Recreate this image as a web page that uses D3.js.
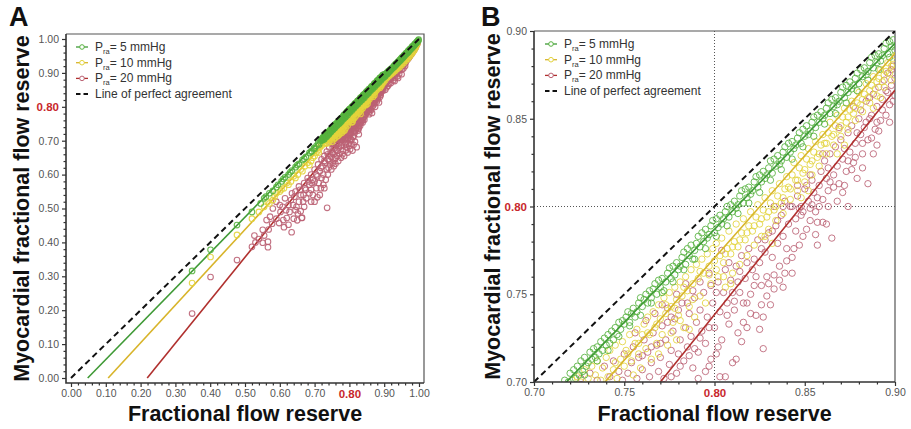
<!DOCTYPE html>
<html><head><meta charset="utf-8">
<script src="https://cdn.jsdelivr.net/npm/d3@7"></script>
<style>body{margin:0;background:#fff;} svg{display:block;font-family:"Liberation Sans",Arial,sans-serif;}</style>
</head><body><svg id="c" width="911" height="429"></svg>
<script>
// ---------- data ----------
const seriesLabels = ["= 5 mmHg", "= 10 mmHg", "= 20 mmHg"];
const agreementLabel = "Line of perfect agreement";
const xTitle = "Fractional flow reserve";
const yTitle = "Myocardial fractional flow reserve";
const ticksA = [0.00,0.10,0.20,0.30,0.40,0.50,0.60,0.70,0.80,0.90,1.00];
const tickLabelsA = ["0.00","0.10","0.20","0.30","0.40","0.50","0.60","0.70","0.80","0.90","1.00"];
const ticksB = [0.70,0.75,0.80,0.85,0.90];
const tickLabelsB = ["0.70","0.75","0.80","0.85","0.90"];
const cutoff = 0.80;
// regression fits [slope, intercept] per series (5, 10, 20 mmHg)
const fitSlopeA = [1.050, 1.114, 1.268];
const fitInterceptA = [-0.0504, -0.119, -0.2777];
const fitSlopeB = [1.060, 1.165, 1.280];
const fitInterceptB = [-0.061, -0.1613, -0.2856];

const green = [
[0.348,0.316],[0.401,0.378],[0.477,0.451],[0.520,0.490],[0.545,0.515],[0.555,0.530],[0.570,0.545],[0.580,0.552],[0.595,0.570],[0.605,0.580],[0.615,0.592],[0.625,0.600],[0.635,0.612],[0.645,0.622],[0.655,0.632],[0.665,0.643],[0.675,0.652],[0.685,0.664],[0.692,0.669],[0.698,0.678],[0.705,0.684],[0.710,0.692],[0.713,0.689],
[0.560,0.535],[0.590,0.563],[0.610,0.587],[0.630,0.607],[0.650,0.628],[0.670,0.647],[0.690,0.668],[0.700,0.676],
[0.717,0.701],[0.719,0.700],[0.720,0.705],[0.722,0.707],[0.723,0.702],[0.724,0.709],[0.725,0.704],
[0.726,0.712],[0.727,0.706],[0.728,0.714],[0.729,0.709],[0.730,0.711],
[0.731,0.717],[0.732,0.713],[0.733,0.719],[0.734,0.714],[0.735,0.720],[0.736,0.716],
[0.737,0.723],[0.738,0.718],[0.739,0.725],[0.740,0.721],[0.741,0.727],[0.742,0.722],
[0.743,0.729],[0.744,0.724],[0.745,0.731],[0.746,0.727],[0.747,0.734],[0.748,0.730],[0.749,0.735],
[0.750,0.733],[0.751,0.737],[0.752,0.740],[0.753,0.734],[0.754,0.739],[0.755,0.742],[0.756,0.737],
[0.757,0.740],[0.758,0.745],[0.759,0.748],[0.760,0.743],[0.761,0.747],[0.762,0.750],[0.763,0.745],[0.764,0.752],
[0.765,0.748],[0.766,0.753],[0.767,0.756],[0.768,0.750],[0.769,0.758],[0.770,0.754],[0.771,0.759],[0.772,0.752],
[0.773,0.757],[0.774,0.762],[0.775,0.765],[0.776,0.759],[0.777,0.766],[0.778,0.761],[0.779,0.768],[0.780,0.764],
[0.781,0.766],[0.782,0.771],[0.783,0.774],[0.784,0.767],[0.785,0.776],[0.786,0.772],[0.787,0.778],[0.788,0.770],
[0.789,0.775],[0.790,0.779],[0.791,0.783],[0.792,0.777],[0.793,0.785],[0.794,0.780],[0.795,0.787],[0.796,0.782],
[0.797,0.784],[0.798,0.789],[0.799,0.792],[0.800,0.785],[0.801,0.793],[0.802,0.788],[0.803,0.795],[0.804,0.790],
[0.805,0.793],[0.806,0.797],[0.807,0.800],[0.808,0.794],[0.809,0.801],[0.810,0.797],[0.811,0.803],[0.812,0.799],
[0.813,0.801],[0.814,0.806],[0.815,0.809],[0.816,0.802],[0.817,0.810],[0.818,0.805],[0.819,0.811],[0.820,0.807],
[0.821,0.809],[0.822,0.814],[0.823,0.817],[0.824,0.811],[0.825,0.818],[0.826,0.814],[0.827,0.820],[0.828,0.816],
[0.829,0.818],[0.830,0.822],[0.831,0.826],[0.832,0.819],[0.833,0.827],[0.834,0.823],[0.835,0.829],[0.836,0.824],
[0.837,0.826],[0.838,0.831],[0.839,0.834],[0.840,0.828],[0.841,0.836],[0.842,0.831],[0.843,0.837],[0.844,0.833],
[0.845,0.835],[0.846,0.839],[0.847,0.842],[0.848,0.836],[0.849,0.844],[0.850,0.840],[0.851,0.846],[0.852,0.841],
[0.853,0.843],[0.854,0.848],[0.855,0.851],[0.856,0.845],[0.857,0.852],[0.858,0.848],[0.859,0.854],[0.860,0.850],
[0.861,0.852],[0.862,0.856],[0.863,0.859],[0.864,0.853],[0.865,0.861],[0.866,0.857],[0.867,0.862],[0.868,0.858],
[0.869,0.860],[0.870,0.865],[0.871,0.868],[0.872,0.862],[0.873,0.869],[0.874,0.865],[0.875,0.871],[0.876,0.867],
[0.877,0.869],[0.878,0.873],[0.879,0.876],[0.880,0.870],[0.881,0.878],[0.882,0.874],[0.883,0.879],[0.884,0.875],
[0.885,0.877],[0.886,0.882],[0.887,0.885],[0.888,0.879],[0.889,0.886],[0.890,0.882],[0.891,0.887],[0.892,0.883],
[0.893,0.886],[0.894,0.890],[0.895,0.893],[0.896,0.887],[0.897,0.894],[0.898,0.891],[0.899,0.895],[0.900,0.889],
[0.728,0.704],[0.735,0.712],[0.741,0.718],[0.747,0.726],[0.753,0.732],[0.759,0.738],[0.765,0.745],[0.771,0.751],[0.777,0.757],[0.783,0.764],[0.789,0.770],[0.795,0.776],[0.801,0.783],[0.807,0.789],[0.813,0.796],[0.819,0.802],[0.825,0.808],[0.831,0.815],[0.837,0.821],[0.843,0.827],[0.849,0.834],[0.855,0.840],[0.861,0.847],[0.867,0.853],[0.873,0.859],[0.879,0.866],[0.885,0.872],[0.891,0.878],[0.897,0.885],
[0.902,0.893],[0.904,0.897],[0.906,0.896],[0.908,0.901],[0.910,0.899],[0.912,0.905],[0.914,0.903],[0.916,0.909],[0.918,0.907],[0.920,0.912],[0.922,0.913],[0.924,0.916],[0.926,0.915],[0.928,0.921],[0.930,0.919],[0.932,0.925],[0.934,0.923],[0.936,0.929],[0.938,0.928],[0.940,0.933],[0.942,0.932],[0.944,0.937],[0.946,0.936],[0.948,0.942],[0.950,0.940],[0.952,0.946],[0.954,0.945],[0.956,0.950],[0.958,0.949],[0.960,0.955],[0.962,0.954],[0.964,0.959],[0.966,0.958],[0.968,0.963],[0.970,0.962],[0.972,0.968],[0.974,0.967],[0.976,0.972],[0.978,0.971],[0.980,0.976],[0.982,0.976],[0.984,0.980],[0.986,0.980],[0.988,0.985],[0.990,0.985],[0.992,0.989],[0.994,0.990],[0.996,0.994],[0.998,0.995],[0.999,0.998],
[0.903,0.890],[0.909,0.897],[0.915,0.905],[0.921,0.911],[0.927,0.918],[0.933,0.925],[0.939,0.931],[0.945,0.938],[0.951,0.945],[0.957,0.952],[0.963,0.958],[0.969,0.965],[0.975,0.971],[0.981,0.978],[0.987,0.984],[0.993,0.991]
];

const yellow = [
[0.348,0.280],[0.401,0.357],[0.477,0.422],[0.520,0.470],[0.540,0.490],[0.555,0.505],[0.565,0.520],[0.580,0.525],[0.590,0.545],[0.600,0.550],[0.612,0.560],[0.620,0.575],[0.632,0.580],[0.640,0.595],[0.652,0.600],[0.660,0.615],[0.672,0.625],[0.680,0.635],[0.690,0.640],[0.700,0.655],[0.705,0.665],[0.710,0.672],[0.715,0.680],[0.718,0.690],[0.720,0.685],[0.730,0.693],[0.740,0.695],[0.750,0.697],
[0.570,0.515],[0.585,0.535],[0.605,0.556],[0.625,0.570],[0.645,0.590],[0.665,0.610],[0.685,0.628],[0.695,0.650],[0.712,0.665],[0.725,0.690],[0.735,0.692],
[0.721,0.701],[0.724,0.703],[0.726,0.700],[0.728,0.707],[0.730,0.702],[0.732,0.709],[0.734,0.704],[0.735,0.712],[0.737,0.701],[0.738,0.708],[0.740,0.714],[0.741,0.703],
[0.742,0.718],[0.744,0.707],[0.745,0.721],[0.746,0.702],[0.748,0.713],[0.749,0.723],[0.750,0.709],[0.751,0.718],[0.753,0.727],[0.754,0.712],[0.755,0.704],[0.756,0.722],[0.757,0.730],[0.758,0.716],[0.759,0.708],[0.760,0.727],
[0.761,0.733],[0.762,0.719],[0.763,0.737],[0.764,0.727],[0.765,0.713],[0.766,0.740],[0.767,0.731],[0.768,0.722],[0.769,0.744],[0.770,0.736],[0.771,0.727],[0.772,0.748],[0.773,0.739],[0.774,0.721],[0.775,0.751],[0.776,0.743],[0.777,0.734],[0.778,0.754],[0.779,0.747],[0.780,0.738],
[0.781,0.757],[0.782,0.749],[0.783,0.731],[0.784,0.760],[0.785,0.752],[0.786,0.743],[0.787,0.764],[0.788,0.756],[0.789,0.737],[0.790,0.767],[0.791,0.759],[0.792,0.749],[0.793,0.770],[0.794,0.762],[0.795,0.745],[0.796,0.773],[0.797,0.766],[0.798,0.756],[0.799,0.776],[0.800,0.769],
[0.801,0.779],[0.802,0.760],[0.803,0.772],[0.804,0.782],[0.805,0.768],[0.806,0.754],[0.807,0.776],[0.808,0.786],[0.809,0.773],[0.810,0.762],[0.811,0.780],[0.812,0.790],[0.813,0.777],[0.814,0.767],[0.815,0.785],[0.816,0.793],[0.817,0.781],[0.818,0.772],[0.819,0.789],[0.820,0.797],
[0.821,0.786],[0.822,0.778],[0.823,0.794],[0.824,0.801],[0.825,0.790],[0.826,0.783],[0.827,0.798],[0.828,0.805],[0.829,0.794],[0.830,0.787],[0.831,0.802],[0.832,0.809],[0.833,0.798],[0.834,0.792],[0.835,0.806],[0.836,0.813],[0.837,0.802],[0.838,0.796],[0.839,0.810],[0.840,0.817],
[0.841,0.811],[0.842,0.804],[0.843,0.818],[0.844,0.825],[0.845,0.815],[0.846,0.809],[0.847,0.822],[0.848,0.829],[0.849,0.819],[0.850,0.814],[0.851,0.827],[0.852,0.833],[0.853,0.824],[0.854,0.818],[0.855,0.831],[0.856,0.837],[0.857,0.828],[0.858,0.823],[0.859,0.835],[0.860,0.841],
[0.861,0.836],[0.862,0.830],[0.863,0.842],[0.864,0.848],[0.865,0.840],[0.866,0.835],[0.867,0.846],[0.868,0.852],[0.869,0.844],[0.870,0.840],[0.871,0.851],[0.872,0.856],[0.873,0.848],[0.874,0.844],[0.875,0.855],[0.876,0.860],[0.877,0.853],[0.878,0.849],[0.879,0.859],[0.880,0.865],
[0.881,0.858],[0.882,0.854],[0.883,0.864],[0.884,0.870],[0.885,0.862],[0.886,0.859],[0.887,0.869],[0.888,0.874],[0.889,0.867],[0.890,0.863],[0.891,0.873],[0.892,0.878],[0.893,0.871],[0.894,0.868],[0.895,0.877],[0.896,0.882],[0.897,0.876],[0.898,0.872],[0.899,0.881],[0.900,0.886],
[0.745,0.711],[0.752,0.716],[0.758,0.722],[0.763,0.728],[0.768,0.733],[0.773,0.744],[0.778,0.742],[0.783,0.754],[0.788,0.747],[0.792,0.763],[0.797,0.761],[0.801,0.764],[0.806,0.773],[0.810,0.777],[0.814,0.781],[0.818,0.785],[0.822,0.789],[0.826,0.793],[0.830,0.797],[0.834,0.800],[0.838,0.805],[0.842,0.810],[0.846,0.815],[0.850,0.821],[0.854,0.826],[0.858,0.830],[0.862,0.836],[0.866,0.841],[0.870,0.846],[0.874,0.851],[0.878,0.856],[0.882,0.861],[0.886,0.866],[0.890,0.871],[0.894,0.875],[0.898,0.880],[0.776,0.728],[0.781,0.735],[0.786,0.730],[0.779,0.724],[0.769,0.716],[0.805,0.760],[0.809,0.756],[0.828,0.783],[0.832,0.779],[0.848,0.805],[0.852,0.809],[0.868,0.830],[0.872,0.835],[0.888,0.856],[0.892,0.862],
[0.902,0.884],[0.905,0.889],[0.908,0.886],[0.911,0.893],[0.914,0.891],[0.917,0.898],[0.920,0.896],[0.923,0.903],[0.926,0.901],[0.929,0.908],[0.932,0.906],[0.935,0.913],[0.938,0.912],[0.941,0.919],[0.944,0.917],[0.947,0.925],[0.950,0.923],[0.953,0.931],[0.956,0.929],[0.959,0.937],[0.962,0.936],[0.965,0.943],[0.968,0.942],[0.971,0.950],[0.974,0.949],[0.977,0.957],[0.980,0.957],[0.983,0.964],[0.986,0.966],[0.989,0.973],[0.992,0.978],[0.995,0.985],
[0.903,0.878],[0.909,0.887],[0.915,0.894],[0.921,0.900],[0.927,0.907],[0.933,0.915],[0.939,0.921],[0.945,0.928],[0.951,0.935],[0.957,0.942],[0.963,0.949],[0.969,0.956],[0.975,0.963],[0.981,0.970],[0.987,0.977],[0.993,0.985]
];

const red = [
[0.348,0.190],[0.401,0.298],[0.477,0.348],[0.520,0.387],[0.527,0.420],[0.551,0.399],[0.551,0.437],[0.566,0.402],[0.566,0.386],[0.562,0.466],[0.572,0.476],[0.598,0.457],[0.600,0.510],[0.610,0.466],[0.620,0.472],[0.634,0.430],[0.648,0.505],[0.663,0.472],[0.667,0.520],[0.664,0.473],[0.736,0.502],[0.708,0.533],
[0.580,0.500],[0.590,0.520],[0.615,0.530],[0.625,0.510],[0.635,0.545],[0.645,0.550],[0.655,0.565],[0.660,0.540],[0.670,0.575],[0.675,0.555],[0.680,0.590],[0.685,0.570],[0.690,0.600],[0.695,0.585],[0.700,0.615],[0.705,0.600],[0.710,0.630],[0.715,0.610],[0.720,0.645],[0.722,0.625],[0.728,0.655],[0.730,0.635],[0.735,0.668],[0.738,0.645],[0.742,0.680],[0.745,0.660],[0.750,0.690],[0.752,0.665],[0.758,0.678],[0.762,0.688],[0.765,0.670],[0.770,0.692],[0.775,0.685],[0.780,0.695],[0.790,0.690],[0.740,0.620],[0.720,0.590],[0.760,0.650],[0.780,0.660],[0.700,0.580],[0.690,0.555],[0.725,0.570],[0.809,0.671],[0.821,0.681],[0.800,0.685],[0.790,0.672],
[0.742,0.640],[0.748,0.652],[0.752,0.635],[0.755,0.660],[0.758,0.645],[0.762,0.672],[0.765,0.655],[0.768,0.640],[0.770,0.680],[0.772,0.662],[0.776,0.650],[0.778,0.688],[0.782,0.670],[0.785,0.655],[0.788,0.695],[0.792,0.680],[0.795,0.665],[0.798,0.692],[0.802,0.675],[0.806,0.690],[0.812,0.688],[0.816,0.697],[0.705,0.560],[0.712,0.575],[0.718,0.560],[0.725,0.600],[0.732,0.585],[0.735,0.615],[0.738,0.600],[0.745,0.630],[0.748,0.615],[0.755,0.625],[0.760,0.632],[0.695,0.540],[0.685,0.545],[0.676,0.530],[0.668,0.540],[0.655,0.520],[0.645,0.495],[0.638,0.510],[0.628,0.490],[0.640,0.470],[0.652,0.485],[0.700,0.520],[0.715,0.540],[0.728,0.560],[0.690,0.520],[0.670,0.505],[0.660,0.492],[0.650,0.465],[0.625,0.452],[0.612,0.445],[0.602,0.490],[0.590,0.470],[0.578,0.455],[0.568,0.438],[0.555,0.420],[0.540,0.410],[0.530,0.400],[0.608,0.505],[0.618,0.495],[0.632,0.525],[0.642,0.535],[0.658,0.555],[0.672,0.560],[0.682,0.580],[0.692,0.575],[0.708,0.595],[0.718,0.620],[0.728,0.640],[0.738,0.660],[0.752,0.680],[0.760,0.690],
[0.726,0.702],[0.731,0.705],[0.735,0.701],[0.739,0.709],[0.742,0.703],[0.744,0.712],[0.747,0.706],[0.749,0.701],[0.750,0.716],
[0.752,0.705],[0.754,0.711],[0.755,0.720],[0.757,0.702],[0.758,0.714],[0.760,0.707],[0.761,0.724],[0.762,0.735],[0.763,0.717],[0.764,0.703],[0.765,0.711],[0.766,0.728],[0.767,0.739],[0.768,0.721],[0.769,0.706],[0.770,0.714],
[0.771,0.732],[0.772,0.702],[0.773,0.724],[0.774,0.742],[0.775,0.710],[0.776,0.718],[0.777,0.729],[0.778,0.736],[0.779,0.705],[0.780,0.716],[0.781,0.724],[0.782,0.745],[0.783,0.712],[0.784,0.731],[0.785,0.720],[0.786,0.739],[0.787,0.726],[0.788,0.708],[0.789,0.748],[0.790,0.734],
[0.791,0.717],[0.792,0.741],[0.793,0.729],[0.794,0.751],[0.795,0.722],[0.796,0.737],[0.797,0.709],[0.798,0.755],[0.799,0.745],[0.800,0.731],[0.801,0.716],[0.801,0.751],[0.802,0.757],[0.803,0.740],[0.804,0.724],[0.805,0.751],[0.806,0.703],[0.806,0.764],[0.807,0.745],[0.808,0.733],[0.809,0.758],[0.810,0.711],[0.810,0.751],
[0.811,0.741],[0.812,0.766],[0.813,0.728],[0.814,0.751],[0.815,0.772],[0.816,0.734],[0.817,0.759],[0.818,0.745],[0.819,0.776],[0.820,0.750],[0.821,0.764],[0.822,0.755],[0.823,0.738],[0.824,0.781],[0.825,0.730],[0.825,0.768],[0.826,0.755],[0.827,0.719],[0.827,0.737],[0.828,0.774],[0.829,0.760],[0.830,0.785],[0.830,0.756],
[0.831,0.744],[0.832,0.771],[0.833,0.761],[0.834,0.789],[0.835,0.779],[0.836,0.766],[0.837,0.795],[0.838,0.783],[0.839,0.762],[0.840,0.776],[0.841,0.790],[0.842,0.800],[0.843,0.771],[0.844,0.776],[0.845,0.786],[0.846,0.806],[0.847,0.778],[0.848,0.795],[0.849,0.783],[0.850,0.810],[0.849,0.797],
[0.851,0.787],[0.852,0.803],[0.853,0.792],[0.854,0.815],[0.855,0.808],[0.856,0.797],[0.857,0.778],[0.857,0.791],[0.858,0.812],[0.859,0.820],[0.860,0.804],[0.861,0.826],[0.862,0.790],[0.862,0.816],[0.863,0.809],[0.864,0.830],[0.865,0.782],[0.866,0.818],[0.866,0.811],[0.867,0.834],[0.868,0.823],[0.869,0.813],[0.870,0.838],
[0.871,0.827],[0.872,0.812],[0.873,0.820],[0.874,0.842],[0.875,0.831],[0.876,0.846],[0.877,0.825],[0.878,0.836],[0.879,0.816],[0.880,0.850],[0.881,0.841],[0.881,0.855],[0.882,0.830],[0.883,0.845],[0.884,0.860],[0.885,0.813],[0.885,0.838],[0.886,0.850],[0.887,0.839],[0.888,0.864],[0.889,0.844],[0.890,0.835],[0.890,0.857],
[0.891,0.868],[0.892,0.849],[0.893,0.861],[0.894,0.872],[0.895,0.852],[0.896,0.865],[0.896,0.876],[0.897,0.858],[0.898,0.869],[0.899,0.880],[0.899,0.860],[0.900,0.873],[0.900,0.863],
[0.833,0.800],[0.838,0.800],[0.843,0.800],[0.848,0.800],[0.853,0.799],[0.858,0.800],[0.863,0.800],[0.874,0.800],
[0.776,0.703],[0.781,0.709],[0.786,0.715],[0.791,0.702],[0.795,0.706],[0.798,0.713],[0.802,0.720],[0.803,0.703],[0.812,0.713],[0.815,0.723],[0.818,0.731],[0.820,0.739],[0.816,0.745],[0.813,0.757],[0.808,0.768],[0.804,0.775],[0.797,0.762],[0.792,0.757],[0.788,0.752],[0.785,0.745],[0.780,0.741],[0.776,0.737],[0.771,0.744],[0.779,0.750],[0.784,0.756],[0.826,0.744],[0.829,0.749],[0.833,0.753],[0.836,0.758],[0.822,0.770],[0.826,0.776],[0.828,0.781],[0.832,0.786],[0.835,0.792],[0.840,0.769],[0.843,0.762],[0.838,0.754],[0.845,0.793],[0.847,0.799],[0.851,0.812],[0.854,0.801],[0.856,0.784],[0.860,0.791],[0.863,0.822],[0.868,0.803],[0.871,0.808],[0.872,0.833],[0.876,0.821],[0.878,0.828],[0.879,0.842],[0.882,0.822],[0.884,0.848],[0.887,0.852],[0.888,0.830],[0.891,0.843],[0.893,0.855],[0.895,0.866],[0.897,0.848],[0.898,0.878],[0.886,0.862],[0.877,0.857],[0.869,0.845],[0.860,0.830],[0.853,0.818],[0.846,0.812],[0.839,0.803],[0.857,0.805],[0.864,0.814],[0.874,0.826],[0.882,0.836],[0.890,0.848],[0.807,0.738],[0.811,0.746],[0.814,0.763],[0.818,0.768],[0.823,0.760],[0.792,0.725],[0.797,0.731],[0.789,0.719],[0.765,0.720],[0.760,0.715],[0.756,0.728],[0.770,0.722],[0.774,0.734],
[0.902,0.866],[0.904,0.878],[0.906,0.870],[0.908,0.885],[0.910,0.875],[0.912,0.889],[0.914,0.868],[0.916,0.893],[0.918,0.882],[0.920,0.896],[0.922,0.886],[0.924,0.900],[0.926,0.878],[0.928,0.905],[0.930,0.893],[0.932,0.909],[0.934,0.899],[0.936,0.913],[0.938,0.890],[0.940,0.918],[0.942,0.906],[0.944,0.922],[0.946,0.912],[0.948,0.927],[0.950,0.909],[0.952,0.931],[0.954,0.921],[0.956,0.936],[0.958,0.926],[0.960,0.941],[0.962,0.931],[0.964,0.946],[0.966,0.938],[0.968,0.951],[0.970,0.943],[0.972,0.956],[0.974,0.949],[0.976,0.961],[0.978,0.955],[0.980,0.966],[0.982,0.961],[0.984,0.971],[0.986,0.967],[0.988,0.976],[0.990,0.974],[0.993,0.982],[0.996,0.989],[0.950,0.896],[0.940,0.885],[0.930,0.876],[0.960,0.920],
[0.903,0.850],[0.907,0.858],[0.911,0.862],[0.915,0.880],[0.919,0.870],[0.923,0.889],[0.927,0.893],[0.931,0.885],[0.935,0.903],[0.939,0.907],[0.943,0.897],[0.947,0.918],[0.951,0.921],[0.955,0.913],[0.959,0.933],[0.963,0.940],[0.967,0.945],[0.971,0.950],[0.975,0.955],[0.979,0.961],[0.983,0.966],[0.987,0.972],[0.991,0.979],[0.995,0.986],[0.905,0.886],[0.913,0.896],[0.921,0.903],[0.929,0.912],[0.937,0.922],[0.945,0.929],[0.953,0.938],[0.961,0.947],[0.969,0.956],[0.977,0.964],[0.985,0.974]
];

// ---------- styles ----------
const markerColors = ["#56b23e", "#e3d43c", "#bb6274"];
const lineColors = ["#3f9a36", "#d8b42a", "#b0302e"];
const seriesData = [green, yellow, red];
const drawOrder = [2, 1, 0];

const svg = d3.select("#c");

function drawPanel(cfg) {
  const g = svg.append("g");
  const x = d3.scaleLinear().domain(cfg.domain).range(cfg.xRange);
  const y = d3.scaleLinear().domain(cfg.domain).range(cfg.yRange);
  const left = cfg.xRange[0] - cfg.pad, right = cfg.xRange[1] + cfg.pad;
  const top = cfg.yRange[1] - cfg.pad, bottom = cfg.yRange[0] + cfg.pad;

  g.append("path").attr("d", `M${left},${top}H${right}V${bottom}`)
    .attr("fill", "none").attr("stroke", "#555").attr("stroke-width", 1.2);

  const clipId = "clip" + cfg.letter;
  g.append("clipPath").attr("id", clipId).append("rect")
    .attr("x", left).attr("y", top).attr("width", right - left).attr("height", bottom - top);
  const plot = g.append("g").attr("clip-path", `url(#${clipId})`);

  if (cfg.refLines) {
    plot.append("line").attr("x1", x(cutoff)).attr("x2", x(cutoff)).attr("y1", top).attr("y2", bottom)
      .attr("stroke", "#555").attr("stroke-width", 1).attr("stroke-dasharray", "1,2");
    plot.append("line").attr("x1", left).attr("x2", right).attr("y1", y(cutoff)).attr("y2", y(cutoff))
      .attr("stroke", "#555").attr("stroke-width", 1).attr("stroke-dasharray", "1,2");
  }

  const fitLines = () => {
    drawOrder.forEach(i => {
      const m = cfg.slope[i], b = cfg.intercept[i];
      const x0 = Math.max(cfg.domain[0], (cfg.domain[0] - b) / m);
      const x1 = cfg.fitEnd;
      plot.append("line").attr("x1", x(x0)).attr("y1", y(m * x0 + b)).attr("x2", x(x1)).attr("y2", y(m * x1 + b))
        .attr("stroke", lineColors[i]).attr("stroke-width", 1.6);
    });
  };
  if (!cfg.linesOnTop) fitLines();

  drawOrder.forEach(i => {
    plot.append("g").selectAll("circle").data(seriesData[i]).join("circle")
      .attr("cx", d => x(d[0])).attr("cy", d => y(d[1])).attr("r", cfg.r)
      .attr("fill", "none").attr("stroke", markerColors[i]).attr("stroke-width", cfg.sw)
      .attr("stroke-opacity", cfg.op);
  });
  if (cfg.linesOnTop) fitLines();

  plot.append("line").attr("x1", x(cfg.domain[0])).attr("y1", y(cfg.domain[0]))
    .attr("x2", x(cfg.domain[1])).attr("y2", y(cfg.domain[1]))
    .attr("stroke", "#111").attr("stroke-width", 2).attr("stroke-dasharray", "6,4");

  const minorTicks = d3.range(Math.round((cfg.domain[1] - cfg.domain[0]) / cfg.minor) + 1)
    .map(k => +(cfg.domain[0] + k * cfg.minor).toFixed(3))
    .filter(v => !cfg.ticks.some(t => Math.abs(t - v) < 1e-6));

  const styleAxis = (sel) => {
    sel.select(".domain").remove();
    sel.selectAll("line").attr("stroke", "#333").attr("stroke-width", 1.2);
    sel.selectAll("text").attr("fill", "#555").style("font-size", "10.5px")
      .style("font-family", '"Liberation Sans",Arial,sans-serif');
    sel.selectAll("text").filter(d => Math.abs(d - cutoff) < 1e-6)
      .attr("fill", "#c8282c").style("font-weight", "bold").style("font-size", "11.5px");
  };
  const fmt = (ticks, labels) => (d => labels[ticks.findIndex(t => Math.abs(t - d) < 1e-6)]);

  const ax = g.append("g").attr("transform", `translate(0,${bottom})`)
    .call(d3.axisBottom(x).tickValues(cfg.ticks).tickFormat(fmt(cfg.ticks, cfg.labels)).tickSize(4).tickPadding(3));
  styleAxis(ax);
  const axm = g.append("g").attr("transform", `translate(0,${bottom})`)
    .call(d3.axisBottom(x).tickValues(minorTicks).tickFormat("").tickSize(2.5));
  styleAxis(axm);
  const ay = g.append("g").attr("transform", `translate(${left},0)`)
    .call(d3.axisLeft(y).tickValues(cfg.ticks).tickFormat(fmt(cfg.ticks, cfg.labels)).tickSize(4).tickPadding(3));
  styleAxis(ay);
  const aym = g.append("g").attr("transform", `translate(${left},0)`)
    .call(d3.axisLeft(y).tickValues(minorTicks).tickFormat("").tickSize(2.5));
  styleAxis(aym);

  g.append("path").attr("d", `M${left},${top}V${bottom}H${right}`)
    .attr("fill", "none").attr("stroke", "#333").attr("stroke-width", 1.6);

  const cx = (cfg.xRange[0] + cfg.xRange[1]) / 2;
  const cy = (cfg.yRange[0] + cfg.yRange[1]) / 2;
  g.append("text").attr("x", cx).attr("y", 421).attr("text-anchor", "middle")
    .style("font-size", "21.5px").style("font-weight", "bold").attr("fill", "#111").text(xTitle);
  g.append("text").attr("transform", `translate(${cfg.yTitleX},${cy}) rotate(-90)`).attr("text-anchor", "middle")
    .style("font-size", "21.5px").style("font-weight", "bold").attr("fill", "#111").text(yTitle);
  g.append("text").attr("x", cfg.letterX).attr("y", 26).style("font-size", "27px").style("font-weight", "bold")
    .attr("fill", "#111").text(cfg.letter);

  const lg = g.append("g").attr("transform", `translate(${cfg.legX},${cfg.legY})`);
  seriesLabels.forEach((lab, i) => {
    const row = lg.append("g").attr("transform", `translate(0,${i * cfg.legDy})`);
    row.append("line").attr("x1", 0).attr("x2", 12).attr("y1", 0).attr("y2", 0)
      .attr("stroke", lineColors[i]).attr("stroke-width", 1.3);
    row.append("circle").attr("cx", 6).attr("cy", 0).attr("r", 2.3).attr("fill", "#fff")
      .attr("stroke", markerColors[i]).attr("stroke-width", 1);
    const t = row.append("text").attr("x", 19).attr("y", 4).style("font-size", "12px").attr("fill", "#333");
    t.append("tspan").text("P");
    t.append("tspan").attr("dy", 3).style("font-size", "7.5px").text("ra");
    t.append("tspan").attr("dy", -3).text(lab);
  });
  const row = lg.append("g").attr("transform", `translate(0,${3 * cfg.legDy})`);
  row.append("line").attr("x1", 0).attr("x2", 12).attr("y1", 0).attr("y2", 0)
    .attr("stroke", "#111").attr("stroke-width", 2).attr("stroke-dasharray", "4.5,3");
  row.append("text").attr("x", 19).attr("y", 4).style("font-size", "12px").attr("fill", "#333").text(agreementLabel);
}

drawPanel({letter: "A", domain: [0, 1], xRange: [71, 419], yRange: [378, 39], pad: 5,
  ticks: ticksA, labels: tickLabelsA, minor: 0.02, r: 2.8, sw: 1.1, op: 0.9,
  slope: fitSlopeA, intercept: fitInterceptA, fitEnd: 0.99, linesOnTop: false, refLines: false,
  yTitleX: 29, letterX: 9, legX: 76, legY: 47, legDy: 15.7});

drawPanel({letter: "B", domain: [0.7, 0.9], xRange: [534, 895], yRange: [382, 31], pad: 0,
  ticks: ticksB, labels: tickLabelsB, minor: 0.01, r: 3.2, sw: 1, op: 0.85,
  slope: fitSlopeB, intercept: fitInterceptB, fitEnd: 0.9, linesOnTop: true, refLines: true,
  yTitleX: 500, letterX: 481, legX: 545, legY: 44, legDy: 15.7});
</script></body></html>
